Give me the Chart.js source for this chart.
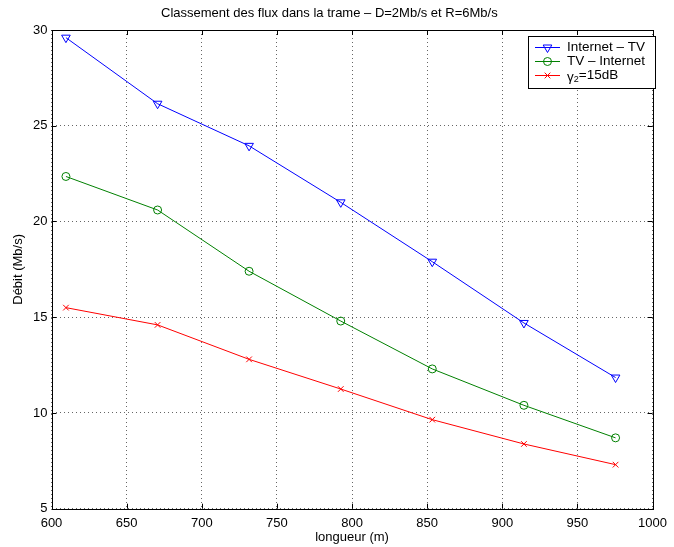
<!DOCTYPE html>
<html>
<head>
<meta charset="utf-8">
<script src="https://cdn.jsdelivr.net/npm/chart.js@4.4.0/dist/chart.umd.min.js"></script>
<style>
  body { margin: 0; background: #fff; }
  #wrap { width: 674px; height: 547px; }
</style>
</head>
<body>
<div id="wrap"><canvas id="flux" width="674" height="547"></canvas></div>
<script>
// longueur de ligne (m) et debits (Mb/s)
let longueurs = [609.6, 670.6, 731.5, 792.5, 853.4, 914.4, 975.4];
let internetTV = [29.6, 26.15, 23.95, 21.0, 17.9, 14.7, 11.85];
let tvInternet = [22.35, 20.6, 17.4, 14.8, 12.3, 10.4, 8.7];
let gamma15 = [15.5, 14.6, 12.8, 11.25, 9.65, 8.38, 7.3];

let xTicks = [600, 650, 700, 750, 800, 850, 900, 950, 1000];
let yTicks = [5, 10, 15, 20, 25, 30];

const police = 'Helvetica, "Liberation Sans", Arial, sans-serif';

function points(vals) {
    return vals.map((v, i) => ({ x: longueurs[i], y: v }));
}

// cadre noir + graduations vers l'interieur (style matlab)
const cadre = {
    id: 'cadre',
    afterDraw(chart) {
        const ctx = chart.ctx;
        const a = chart.chartArea;
        const sx = chart.scales.x, sy = chart.scales.y;
        ctx.save();
        ctx.strokeStyle = '#000';
        ctx.lineWidth = 1;
        ctx.strokeRect(Math.round(a.left) + 0.5, Math.round(a.top) + 0.5,
            Math.round(a.right - a.left), Math.round(a.bottom - a.top));
        ctx.beginPath();
        xTicks.forEach(t => {
            const px = Math.round(sx.getPixelForValue(t)) + 0.5;
            ctx.moveTo(px, a.bottom); ctx.lineTo(px, a.bottom - 5);
            ctx.moveTo(px, a.top); ctx.lineTo(px, a.top + 5);
        });
        yTicks.forEach(t => {
            const py = Math.round(sy.getPixelForValue(t)) + 0.5;
            ctx.moveTo(a.left, py); ctx.lineTo(a.left + 5, py);
            ctx.moveTo(a.right, py); ctx.lineTo(a.right - 5, py);
        });
        ctx.stroke();
        ctx.restore();
    }
};

// legende encadree en haut a droite
const legende = {
    id: 'legende',
    afterDraw(chart) {
        const ctx = chart.ctx;
        ctx.save();
        ctx.fillStyle = '#fff';
        ctx.fillRect(528.5, 36.5, 127, 52);
        ctx.strokeStyle = '#000';
        ctx.lineWidth = 1;
        ctx.strokeRect(528.5, 36.5, 127, 52);
        const ys = [47, 61, 75];
        chart.data.datasets.forEach((ds, i) => {
            const y = ys[i];
            ctx.strokeStyle = ds.borderColor;
            ctx.lineWidth = 1;
            ctx.beginPath();
            ctx.moveTo(535, y + 0.5); ctx.lineTo(560, y + 0.5);
            ctx.stroke();
            ctx.fillStyle = 'rgba(0,0,0,0)';
            Chart.helpers.drawPoint(ctx, {
                pointStyle: ds.pointStyle, rotation: ds.rotation || 0,
                radius: ds.pointRadius, borderWidth: 1
            }, 547.5, y + 0.5);
            ctx.fillStyle = '#000';
            ctx.font = '13.5px ' + police;
            ctx.textBaseline = 'middle';
            ctx.textAlign = 'left';
            if (i < 2) {
                ctx.fillText(ds.label, 567, y);
            } else {
                let x = 567;
                ctx.fillText('γ', x, y + 2);
                x += ctx.measureText('γ').width;
                ctx.font = '9px ' + police;
                ctx.fillText('2', x, y + 5);
                x += ctx.measureText('2').width;
                ctx.font = '13.5px ' + police;
                ctx.fillText('=15dB', x, y);
            }
        });
        ctx.restore();
    }
};

new Chart(document.getElementById('flux'), {
    type: 'line',
    data: {
        datasets: [
            {
                label: 'Internet – TV',
                data: points(internetTV),
                borderColor: '#0000ff',
                backgroundColor: 'rgba(0,0,0,0)',
                pointStyle: 'triangle',
                rotation: 180,
                pointRadius: 5,
                pointBorderWidth: 1
            },
            {
                label: 'TV – Internet',
                data: points(tvInternet),
                borderColor: '#008000',
                backgroundColor: 'rgba(0,0,0,0)',
                pointStyle: 'circle',
                pointRadius: 4,
                pointBorderWidth: 1
            },
            {
                label: 'γ2=15dB',
                data: points(gamma15),
                borderColor: '#ff0000',
                backgroundColor: 'rgba(0,0,0,0)',
                pointStyle: 'crossRot',
                pointRadius: 4,
                pointBorderWidth: 1
            }
        ]
    },
    options: {
        responsive: false,
        animation: false,
        elements: { line: { borderWidth: 1, tension: 0 } },
        layout: { padding: { left: 0, right: 15.3, top: 0, bottom: 0 } },
        plugins: {
            legend: { display: false },
            tooltip: { enabled: false },
            title: {
                display: true,
                text: 'Classement des flux dans la trame – D=2Mb/s et R=6Mb/s',
                color: '#000',
                font: { family: police, size: 13, weight: 'normal' },
                padding: { top: 6, bottom: 8.4 }
            }
        },
        scales: {
            x: {
                type: 'linear',
                min: 600,
                max: 1000,
                afterBuildTicks(scale) { scale.ticks = xTicks.map(v => ({ value: v })); },
                afterFit(scale) { scale.height = 38.3; },
                grid: { color: '#666', drawTicks: false },
                border: { display: false, dash: [1, 3] },
                ticks: { color: '#000', padding: 7, maxRotation: 0,
                    callback: v => String(v),
                    font: { family: police, size: 13 } },
                title: { display: true, text: 'longueur (m)', color: '#000',
                    font: { family: police, size: 13 }, padding: { top: 0, bottom: 2 } }
            },
            y: {
                min: 5,
                max: 30,
                afterBuildTicks(scale) { scale.ticks = yTicks.map(v => ({ value: v })); },
                afterFit(scale) { scale.width = 51.5; },
                grid: { color: '#666', drawTicks: false },
                border: { display: false, dash: [1, 3] },
                ticks: { color: '#000', padding: 4,
                    callback: v => String(v),
                    font: { family: police, size: 13 } },
                title: { display: true, text: 'Débit (Mb/s)', color: '#000',
                    font: { family: police, size: 13 }, padding: { top: 11, bottom: 0 } }
            }
        }
    },
    plugins: [cadre, legende]
});
</script>
</body>
</html>
